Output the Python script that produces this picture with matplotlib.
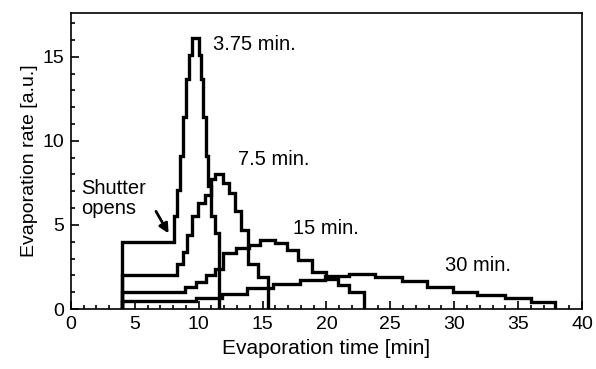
import matplotlib
matplotlib.use("Agg")
import matplotlib.pyplot as plt
from matplotlib.ticker import MultipleLocator

# step edges [min] and evaporation rate [a.u.]
edges_375 = [4, 8.05, 8.27, 8.53, 8.74, 9.0, 9.26, 9.44, 10.02, 10.15, 10.33,
             10.56, 10.72, 11.0, 11.3, 11.6]
rate_375 = [4.0, 5.5, 7.1, 9.1, 11.4, 13.7, 15.1, 16.1, 15.1, 13.7, 11.4,
            9.1, 7.3, 5.5, 4.5]

edges_75 = [4, 8.27, 8.8, 9.05, 9.44, 9.96, 10.5, 11.0, 11.3, 11.9, 12.4,
            12.85, 13.3, 13.85, 14.66, 15.45]
rate_75 = [2.0, 2.7, 3.4, 4.4, 5.5, 6.3, 6.8, 7.7, 8.0, 7.5, 6.9, 5.8, 4.7,
           2.7, 1.9]

edges_15 = [4, 8.9, 9.8, 10.6, 11.3, 11.9, 12.9, 13.9, 14.8, 16.0, 16.9,
            17.8, 18.9, 20.0, 20.9, 21.8, 22.9]
rate_15 = [1.0, 1.3, 1.6, 2.0, 2.4, 3.3, 3.6, 3.8, 4.1, 3.9, 3.5, 2.9, 2.2,
           1.8, 1.4, 1.0]

edges_30 = [4, 9.8, 11.8, 13.8, 15.8, 17.9, 19.9, 21.8, 23.8, 25.9, 27.9,
            29.9, 31.8, 34.0, 36.0, 37.9]
rate_30 = [0.45, 0.65, 0.9, 1.25, 1.5, 1.73, 1.95, 2.1, 1.92, 1.65, 1.3,
           1.03, 0.83, 0.64, 0.44]

labels = ["3.75 min.", "7.5 min.", "15 min.", "30 min."]
label_pos = [(11.1, 15.7), (13.1, 8.9), (17.4, 4.8), (29.3, 2.6)]

plt.rcParams["font.family"] = ["Liberation Sans", "DejaVu Sans"]

fig = plt.figure(figsize=(5.96, 3.69), dpi=100)
ax = fig.add_axes([0.119, 0.1626, 0.8575, 0.8022])

for edges, rate in [(edges_375, rate_375), (edges_75, rate_75),
                    (edges_15, rate_15), (edges_30, rate_30)]:
    ax.stairs(rate, edges, baseline=0, color="black", lw=2.4)

for text, (x, y) in zip(labels, label_pos):
    ax.text(x, y, text, fontsize=14.5, ha="left", va="center")

ax.text(0.8, 6.55, "Shutter\nopens", fontsize=14.5, ha="left", va="center",
        linespacing=1.05)
ax.annotate("", xy=(7.75, 4.35), xytext=(6.55, 5.95),
            arrowprops=dict(arrowstyle="-|>", color="black", lw=2,
                            mutation_scale=14))

ax.set_xlim(0, 40)
ax.set_ylim(0, 17.6)
ax.xaxis.set_major_locator(MultipleLocator(5))
ax.xaxis.set_minor_locator(MultipleLocator(1))
ax.yaxis.set_major_locator(MultipleLocator(5))
ax.yaxis.set_minor_locator(MultipleLocator(1))
ax.tick_params(which="both", direction="in", top=False, right=False,
               labelsize=14, width=1.2)
ax.tick_params(which="major", length=6, pad=5)
ax.tick_params(which="minor", length=3)
for spine in ax.spines.values():
    spine.set_linewidth(1.2)

ax.set_xlabel("Evaporation time [min]", fontsize=15, labelpad=4)
ax.set_ylabel("Evaporation rate [a.u.]", fontsize=14, labelpad=3)

fig.savefig("out.png", dpi=100)
